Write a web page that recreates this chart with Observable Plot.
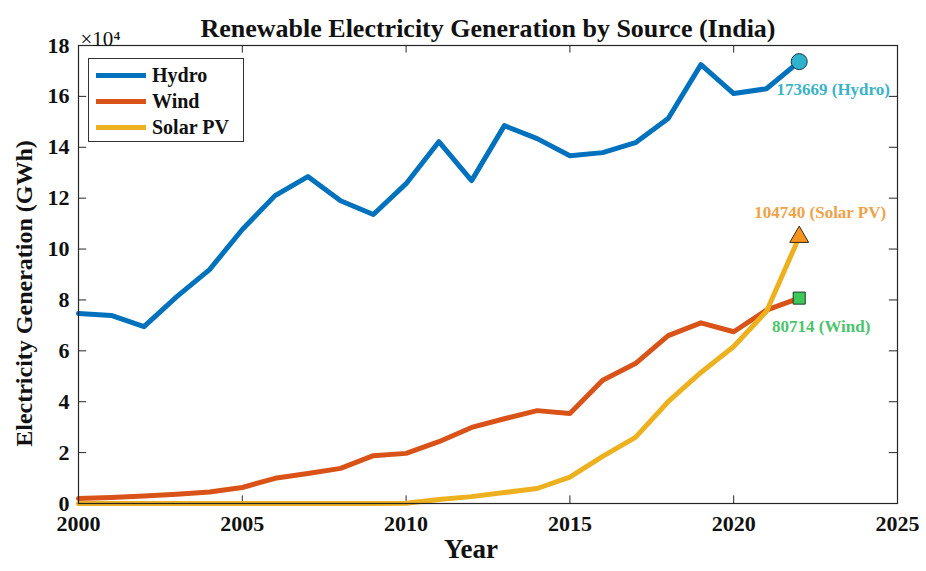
<!DOCTYPE html>
<html><head><meta charset="utf-8">
<script src="https://cdn.jsdelivr.net/npm/d3@7"></script>
<script src="https://cdn.jsdelivr.net/npm/@observablehq/plot@0.6"></script>
<style>
body{margin:0;background:#fff;}
#wrap{position:relative;width:926px;height:571px;font-family:"Liberation Serif","Times New Roman",serif;}
#legend{position:absolute;left:88px;top:58px;width:156px;height:84px;border:1.5px solid #333;background:#fff;box-sizing:border-box;padding-top:3px;}
.row{display:flex;align-items:center;height:26px;font-weight:bold;font-size:20px;color:#111;}
.sw{width:50px;height:5px;margin:0 6px 0 7px;}
</style></head>
<body><div id="wrap"></div>
<script>
const years = [2000,2001,2002,2003,2004,2005,2006,2007,2008,2009,2010,2011,2012,2013,2014,2015,2016,2017,2018,2019,2020,2021,2022];
const hydro = [74700,73900,69500,81300,91900,107700,121000,128500,119000,113600,125700,142200,126900,148500,143400,136700,137900,141800,151300,172500,161100,163000,173669];
const wind  = [2000,2400,2900,3600,4500,6300,9900,11800,13800,18800,19700,24300,29900,33300,36500,35400,48400,55000,66000,71000,67500,76000,80714];
const solar = [0,0,0,0,0,0,0,0,0,0,100,1600,2700,4300,5900,10400,18500,26000,40000,51500,61700,75500,104740];
const seriesNames = ["Hydro","Wind","Solar PV"];
const lineColors = ["#0072BD","#D95319","#EDB120"];
const xTicks = [2000,2005,2010,2015,2020,2025];
const yTicks = [0,20000,40000,60000,80000,100000,120000,140000,160000,180000];
const title = "Renewable Electricity Generation by Source (India)";
const xLabel = "Year";
const yLabel = "Electricity Generation (GWh)";

const rows = (vals) => years.map((y,i)=>({year:y, v:vals[i]}));
const last = years.length-1;
const font = '"Liberation Serif","Times New Roman",serif';
const ink = "#262626";

const chart = Plot.plot({
  width: 926, height: 571,
  marginLeft: 78, marginRight: 29, marginTop: 45, marginBottom: 68,
  style: {fontFamily: font, fontSize: "22px", fontWeight: "bold", color: "#111", background: "#fff"},
  x: {domain: [2000, 2025]},
  y: {domain: [0, 180000]},
  marks: [
    Plot.axisX({ticks: xTicks, tickSize: 0, tickPadding: 12, tickFormat: d => String(d), label: null}),
    Plot.axisY({ticks: yTicks, tickSize: 0, tickPadding: 9, tickFormat: d => String(d/1e4), label: null}),
    // inward ticks, all four sides
    Plot.ruleX(xTicks, {x: d => d, y1: 0, y2: 3000, stroke: ink, strokeWidth: 1}),
    Plot.ruleX(xTicks, {x: d => d, y1: 180000, y2: 177000, stroke: ink, strokeWidth: 1}),
    Plot.ruleY(yTicks, {y: d => d, x1: 2000, x2: 2000.25, stroke: ink, strokeWidth: 1}),
    Plot.ruleY(yTicks, {y: d => d, x1: 2025, x2: 2024.75, stroke: ink, strokeWidth: 1}),
    Plot.line(rows(hydro), {x: "year", y: "v", stroke: lineColors[0], strokeWidth: 5}),
    Plot.line(rows(wind), {x: "year", y: "v", stroke: lineColors[1], strokeWidth: 5}),
    Plot.line(rows(solar), {x: "year", y: "v", stroke: lineColors[2], strokeWidth: 5}),
    Plot.frame({stroke: ink, strokeWidth: 1.2}),
    Plot.dot([{year: years[last], v: hydro[last]}], {x: "year", y: "v", symbol: "circle", r: 8, fill: "#2fb3cc", stroke: "#1a3a44", strokeWidth: 1}),
    Plot.dot([{year: years[last], v: solar[last]}], {x: "year", y: "v", symbol: "triangle", r: 7, fill: "#F7941D", stroke: "#3a2a10", strokeWidth: 1}),
    Plot.dot([{year: years[last], v: wind[last]}], {x: "year", y: "v", symbol: "square", r: 6.8, fill: "#3cc85a", stroke: "#1f3a22", strokeWidth: 1}),
    Plot.text([{year: years[last], v: hydro[last]}], {x: "year", y: "v", text: d => `${d.v} (${seriesNames[0]})`, dx: 34, dy: 28, fill: "#3ab3c6", fontSize: 17, fontWeight: "bold"}),
    Plot.text([{year: years[last], v: solar[last]}], {x: "year", y: "v", text: d => `${d.v} (${seriesNames[2]})`, dx: 21, dy: -24, fill: "#f0a248", fontSize: 17, fontWeight: "bold"}),
    Plot.text([{year: years[last], v: wind[last]}], {x: "year", y: "v", text: d => `${d.v} (${seriesNames[1]})`, dx: 22, dy: 28, fill: "#4cc46e", fontSize: 17, fontWeight: "bold"}),
    Plot.text([title], {frameAnchor: "top", dy: -27, fontSize: 26, fontWeight: "bold", fill: "#111"}),
    Plot.text([xLabel], {frameAnchor: "bottom", dx: -17, dy: 54, fontSize: 27, fontWeight: "bold", fill: "#111"}),
    Plot.text([yLabel], {frameAnchor: "left", textAnchor: "middle", dx: -54, dy: 19, rotate: -90, fontSize: 24, fontWeight: "bold", fill: "#111"}),
    Plot.text(["×10⁴"], {frameAnchor: "top-left", dx: 2, dy: -14, textAnchor: "start", fontSize: 21, fontWeight: "normal", fill: "#111"})
  ]
});
const wrap = document.getElementById("wrap");
wrap.appendChild(chart);
const lg = document.createElement("div");
lg.id = "legend";
seriesNames.forEach((n,i)=>{
  const r = document.createElement("div"); r.className = "row";
  const s = document.createElement("div"); s.className = "sw"; s.style.background = lineColors[i];
  const t = document.createElement("span"); t.textContent = n;
  r.appendChild(s); r.appendChild(t); lg.appendChild(r);
});
wrap.appendChild(lg);
</script></body></html>
